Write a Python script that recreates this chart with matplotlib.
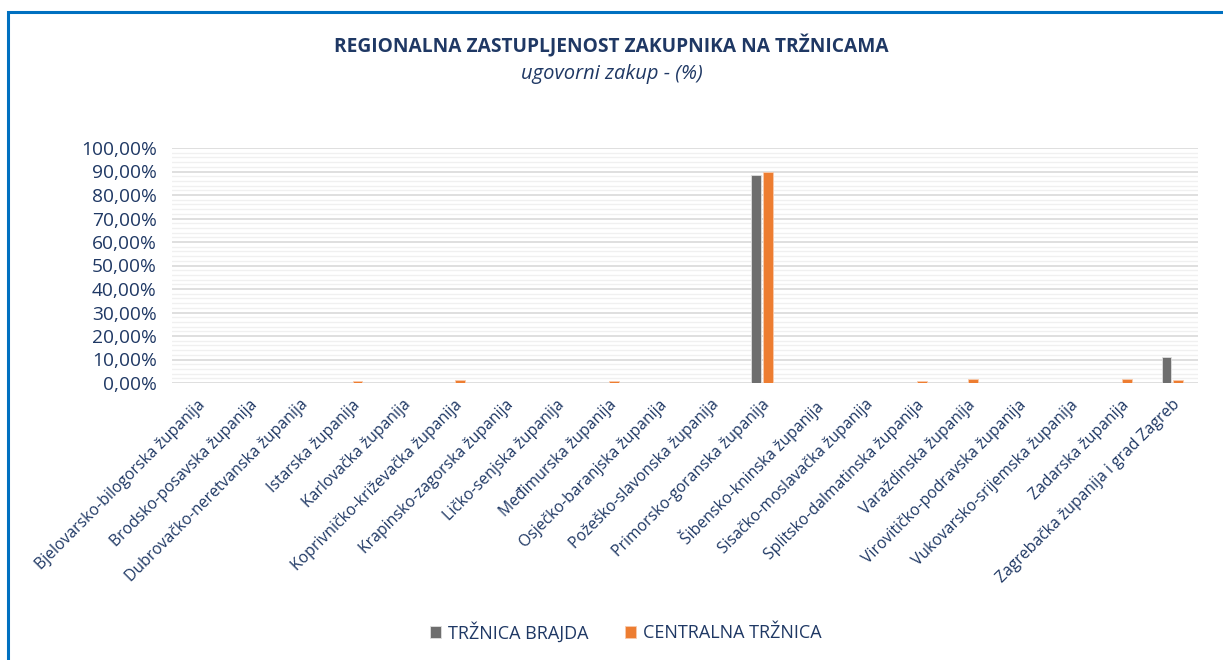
import numpy as np
import matplotlib.pyplot as plt
from matplotlib.patches import Rectangle
from matplotlib.ticker import MultipleLocator, FuncFormatter

plt.rcParams['font.family'] = ['Open Sans', 'DejaVu Sans']

counties = [
    'Bjelovarsko-bilogorska županija', 'Brodsko-posavska županija',
    'Dubrovačko-neretvanska županija', 'Istarska županija',
    'Karlovačka županija', 'Koprivničko-križevačka županija',
    'Krapinsko-zagorska županija', 'Ličko-senjska županija',
    'Međimurska županija', 'Osječko-baranjska županija',
    'Požeško-slavonska županija', 'Primorsko-goranska županija',
    'Šibensko-kninska županija', 'Sisačko-moslavačka županija',
    'Splitsko-dalmatinska županija', 'Varaždinska županija',
    'Virovitičko-podravska županija', 'Vukovarsko-srijemska županija',
    'Zadarska županija', 'Zagrebačka županija i grad Zagreb',
]
brajda = [0, 0, 0, 0, 0, 0, 0, 0, 0, 0, 0, 88.5, 0, 0, 0, 0, 0, 0, 0, 11.0]
centralna = [0, 0, 0, 0.8, 0, 1.3, 0, 0, 0.7, 0, 0, 89.8, 0, 0, 0.8, 1.8, 0, 0, 1.7, 1.2]

navy = '#1F3864'
gray = '#6E6E6E'
orange = '#ED7D31'

fig = plt.figure(figsize=(12.23, 6.6), dpi=100)
ax = fig.add_axes([172 / 1223, 1 - 383 / 660, (1198 - 172) / 1223, (383 - 148) / 660])

x = np.arange(len(counties))
w = 0.19
ax.bar(x - 0.115, brajda, w, color=gray, edgecolor='#E0E0E0', linewidth=0.6,
       label='TRŽNICA BRAJDA', zorder=3)
ax.bar(x + 0.115, centralna, w, color=orange, edgecolor='#F8CBAD', linewidth=0.6,
       label='CENTRALNA TRŽNICA', zorder=3)

ax.set_xlim(-0.5, len(counties) - 0.5)
ax.set_ylim(0, 100)
ax.yaxis.set_major_locator(MultipleLocator(10))
ax.yaxis.set_minor_locator(MultipleLocator(2))
ax.yaxis.set_major_formatter(FuncFormatter(lambda v, p: f'{v:.2f}%'.replace('.', ',')))
ax.grid(axis='y', which='major', color='#D9D9D9', linewidth=1.2, zorder=0)
ax.grid(axis='y', which='minor', color='#F0F0F0', linewidth=1.0, zorder=0)
ax.tick_params(axis='y', which='both', length=0, labelsize=13.8, labelcolor=navy, pad=11)
ax.tick_params(axis='x', length=0, labelsize=11.3, labelcolor=navy, pad=10)
ax.set_xticks(x)
ax.set_xticklabels(counties, rotation=45, ha='right', rotation_mode='anchor')
for s in ax.spines.values():
    s.set_visible(False)

fig.text(0.5, 1 - 46 / 660, 'REGIONALNA ZASTUPLJENOST ZAKUPNIKA NA TRŽNICAMA',
         ha='center', va='center', fontsize=13.8, fontweight='bold', color=navy)
fig.text(0.5, 1 - 74 / 660, 'ugovorni zakup - (%)', ha='center', va='center',
         fontsize=14.5, style='italic', color=navy)

fig.legend(loc='center', bbox_to_anchor=(626 / 1223, 1 - 632 / 660), ncol=2,
           frameon=False, fontsize=13, labelcolor=navy, handlelength=0.6,
           handleheight=0.6, columnspacing=2.0, handletextpad=0.4)

fig.patches.append(Rectangle((8 / 1223, -0.01), 1.05, 1 - 12 / 660 + 0.01,
                             transform=fig.transFigure, fill=False,
                             edgecolor='#0070C0', linewidth=2.2))

fig.savefig('out.png', dpi=100)
